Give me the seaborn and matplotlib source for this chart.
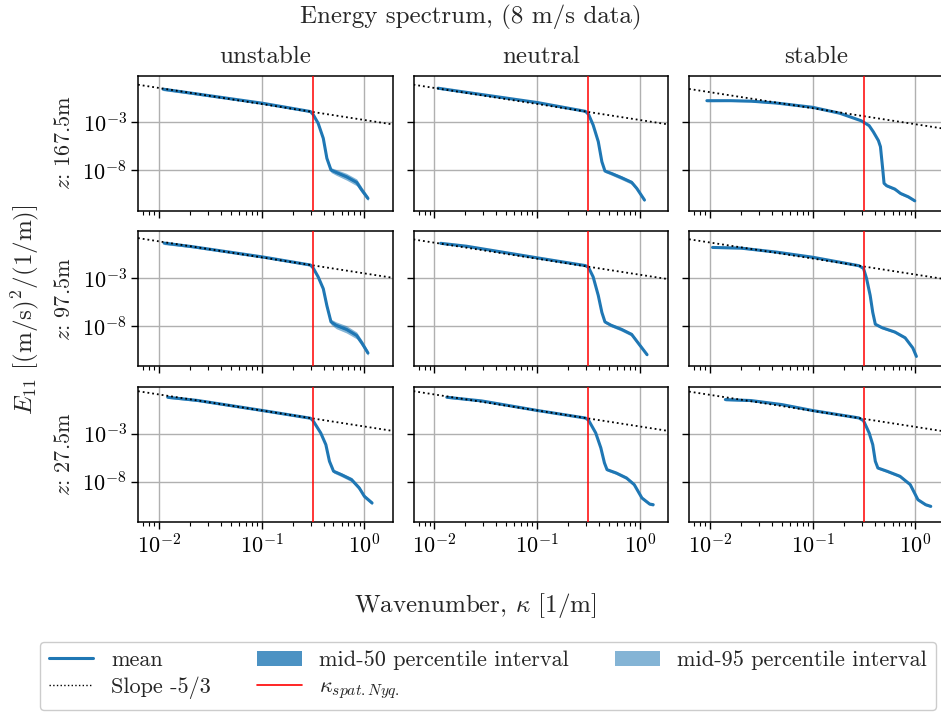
import numpy as np
import pandas as pd
import matplotlib
matplotlib.use("Agg")
import matplotlib.pyplot as plt
import seaborn as sns
from matplotlib.lines import Line2D
from matplotlib.patches import Patch
from matplotlib.ticker import FixedLocator, NullLocator, LogLocator, NullFormatter

# ---------------- data (log10 values) ----------------
stabilities = ["unstable", "neutral", "stable"]
heights = ["167.5", "97.5", "27.5"]
kappa_nyq = 0.314
x_limits = (0.00625, 1.9)
y_limits = (10 ** -12.2, 10 ** 1.85)
y_ticks = [1e-8, 1e-3]

# slope -5/3 reference line constant, log10(C) per row (top->bottom) and column
slope_logC_167 = [-2.76, -2.76, -3.20]
slope_logC_97 = [-2.53, -2.67, -2.65]
slope_logC_27 = [-2.26, -2.26, -2.30]

# z = 167.5 m
lk_u167 = [-1.96, -1.675, -0.99, -0.525, -0.5, -0.45, -0.40, -0.365, -0.325, -0.275, -0.175, -0.075, -0.025, 0.035]
le_u167 = [0.45, 0.02, -1.02, -1.88, -2.17, -3.10, -4.67, -6.75, -7.97, -8.21, -8.66, -9.25, -10.05, -10.92]
s95_u167 = [0.15, 0.12, 0.12, 0.10, 0.10, 0.12, 0.15, 0.20, 0.25, 0.30, 0.35, 0.35, 0.30, 0.25]
s50_u167 = [0.05, 0.04, 0.04, 0.03, 0.03, 0.04, 0.05, 0.07, 0.09, 0.11, 0.12, 0.12, 0.10, 0.08]

lk_n167 = [-1.965, -1.69, -0.995, -0.53, -0.5, -0.455, -0.405, -0.37, -0.34, -0.28, -0.18, -0.08, -0.03, 0.045]
le_n167 = [0.55, 0.12, -0.95, -1.86, -2.17, -3.28, -5.01, -7.10, -8.07, -8.31, -8.76, -9.25, -9.88, -11.09]
s95_n167 = [0.10, 0.08, 0.08, 0.06, 0.06, 0.08, 0.10, 0.12, 0.15, 0.18, 0.20, 0.20, 0.18, 0.15]
s50_n167 = [0.03, 0.03, 0.03, 0.02, 0.02, 0.03, 0.03, 0.04, 0.05, 0.06, 0.07, 0.07, 0.06, 0.05]

lk_s167 = [-2.03, -1.8, -1.6, -1.35, -1.0, -0.735, -0.525, -0.45, -0.41, -0.36, -0.34, -0.317, -0.305, -0.28, -0.2, -0.145, -0.07, -0.006]
le_s167 = [-0.75, -0.75, -0.80, -1.00, -1.44, -2.06, -2.85, -3.35, -3.98, -4.90, -5.54, -7.97, -9.35, -9.60, -9.95, -10.40, -10.75, -11.17]
s95_s167 = [0.10, 0.08, 0.08, 0.07, 0.06, 0.06, 0.06, 0.07, 0.08, 0.08, 0.08, 0.08, 0.10, 0.12, 0.14, 0.14, 0.13, 0.12]
s50_s167 = [0.03, 0.03, 0.03, 0.02, 0.02, 0.02, 0.02, 0.02, 0.03, 0.03, 0.03, 0.03, 0.03, 0.04, 0.05, 0.05, 0.04, 0.04]

# z = 97.5 m
lk_u97 = [-1.95, -1.675, -0.99, -0.525, -0.5, -0.45, -0.40, -0.365, -0.325, -0.275, -0.175, -0.075, -0.025, 0.035]
le_u97 = [0.62, 0.25, -0.82, -1.66, -1.94, -2.89, -4.13, -5.89, -7.58, -7.93, -8.35, -8.99, -9.76, -10.82]
s95_u97 = [0.15, 0.12, 0.12, 0.10, 0.10, 0.12, 0.15, 0.20, 0.28, 0.35, 0.38, 0.35, 0.30, 0.25]
s50_u97 = [0.05, 0.04, 0.04, 0.03, 0.03, 0.04, 0.05, 0.07, 0.10, 0.12, 0.13, 0.12, 0.10, 0.08]

lk_n97 = [-1.94, -1.69, -0.995, -0.53, -0.5, -0.455, -0.405, -0.37, -0.34, -0.28, -0.18, -0.08, -0.005, 0.07]
le_n97 = [0.60, 0.30, -0.92, -1.72, -1.91, -2.89, -4.83, -6.59, -7.58, -7.93, -8.35, -8.88, -9.94, -10.99]
s95_n97 = [0.10, 0.08, 0.08, 0.06, 0.06, 0.08, 0.10, 0.12, 0.14, 0.16, 0.18, 0.18, 0.16, 0.14]
s50_n97 = [0.03, 0.03, 0.03, 0.02, 0.02, 0.03, 0.03, 0.04, 0.05, 0.05, 0.06, 0.06, 0.05, 0.05]

lk_s97 = [-1.975, -1.7, -1.35, -1.0, -0.55, -0.505, -0.475, -0.44, -0.415, -0.39, -0.325, -0.2, -0.1, -0.025, 0.01]
le_s97 = [0.17, 0.10, -0.32, -0.85, -1.73, -2.01, -3.07, -4.83, -6.59, -7.82, -8.18, -8.63, -9.23, -10.29, -11.17]
s95_s97 = [0.10, 0.08, 0.08, 0.07, 0.06, 0.06, 0.07, 0.08, 0.08, 0.10, 0.12, 0.13, 0.13, 0.12, 0.12]
s50_s97 = [0.03, 0.03, 0.03, 0.02, 0.02, 0.02, 0.02, 0.03, 0.03, 0.03, 0.04, 0.04, 0.04, 0.04, 0.04]

# z = 27.5 m
lk_u27 = [-1.915, -1.625, -0.99, -0.525, -0.5, -0.425, -0.375, -0.34, -0.30, -0.225, -0.125, -0.05, 0.0, 0.075]
le_u27 = [0.78, 0.45, -0.60, -1.40, -1.65, -2.93, -4.15, -5.88, -6.92, -7.27, -7.79, -8.66, -9.53, -10.22]
s95_u27 = [0.12, 0.10, 0.10, 0.08, 0.08, 0.10, 0.12, 0.15, 0.18, 0.20, 0.22, 0.22, 0.20, 0.18]
s50_u27 = [0.04, 0.03, 0.03, 0.03, 0.03, 0.03, 0.04, 0.05, 0.06, 0.07, 0.07, 0.07, 0.06, 0.06]

lk_n27 = [-1.88, -1.54, -0.995, -0.53, -0.5, -0.43, -0.38, -0.345, -0.32, -0.23, -0.13, -0.055, 0.02, 0.095, 0.13]
le_n27 = [0.78, 0.40, -0.60, -1.38, -1.60, -2.93, -4.49, -6.05, -6.75, -7.10, -7.62, -8.31, -9.70, -10.33, -10.40]
s95_n27 = [0.10, 0.08, 0.08, 0.06, 0.06, 0.08, 0.10, 0.12, 0.14, 0.15, 0.16, 0.16, 0.15, 0.14, 0.14]
s50_n27 = [0.03, 0.03, 0.03, 0.02, 0.02, 0.03, 0.03, 0.04, 0.05, 0.05, 0.05, 0.05, 0.05, 0.05, 0.05]

lk_s27 = [-1.85, -1.6, -1.3, -1.0, -0.55, -0.505, -0.45, -0.415, -0.39, -0.365, -0.275, -0.15, -0.05, 0.025, 0.1, 0.15]
le_s27 = [0.54, 0.44, 0.02, -0.60, -1.37, -1.65, -2.93, -4.15, -5.88, -6.58, -6.92, -7.44, -8.31, -9.88, -10.40, -10.57]
s95_s27 = [0.12, 0.10, 0.08, 0.08, 0.06, 0.06, 0.07, 0.08, 0.10, 0.12, 0.13, 0.14, 0.14, 0.13, 0.12, 0.12]
s50_s27 = [0.04, 0.03, 0.03, 0.03, 0.02, 0.02, 0.02, 0.03, 0.03, 0.04, 0.04, 0.05, 0.05, 0.04, 0.04, 0.04]

# ---------------- styling ----------------
sns.set_theme(style="ticks")
plt.rcParams.update({
    "font.family": ["cmr10", "DejaVu Serif"],
    "mathtext.fontset": "cm",
    "axes.formatter.use_mathtext": True,
    "axes.unicode_minus": False,
    "axes.edgecolor": "black",
    "axes.linewidth": 1.1,
    "xtick.color": "black",
    "ytick.color": "black",
})

C0 = "#1f77b4"
W, H = 941, 713
fig = plt.figure(figsize=(W / 100, H / 100), dpi=100)

col_left = [138, 413.5, 689]
row_top = [75.7, 231.3, 387]
ax_w, ax_h = 255, 135

panels = [
    [(lk_u167, le_u167, s95_u167, s50_u167), (lk_n167, le_n167, s95_n167, s50_n167), (lk_s167, le_s167, s95_s167, s50_s167)],
    [(lk_u97, le_u97, s95_u97, s50_u97), (lk_n97, le_n97, s95_n97, s50_n97), (lk_s97, le_s97, s95_s97, s50_s97)],
    [(lk_u27, le_u27, s95_u27, s50_u27), (lk_n27, le_n27, s95_n27, s50_n27), (lk_s27, le_s27, s95_s27, s50_s27)],
]
slope_consts = [slope_logC_167, slope_logC_97, slope_logC_27]

TICK_FS = 16
for r in range(3):
    for c in range(3):
        lk, le, s95, s50 = [np.array(a, dtype=float) for a in panels[r][c]]
        ax = fig.add_axes([col_left[c] / W, 1 - (row_top[r] + ax_h) / H, ax_w / W, ax_h / H])
        ax.set_xscale("log")
        ax.set_yscale("log")
        kappa = 10 ** lk
        ax.fill_between(kappa, 10 ** (le - s95), 10 ** (le + s95), color=C0, alpha=0.55, lw=0, zorder=2)
        ax.fill_between(kappa, 10 ** (le - s50), 10 ** (le + s50), color=C0, alpha=0.8, lw=0, zorder=2)
        df = pd.DataFrame({"kappa": kappa, "E": 10 ** le})
        sns.lineplot(data=df, x="kappa", y="E", ax=ax, color=C0, lw=2.2, zorder=3, sort=False)
        xs = np.array(x_limits)
        ax.plot(xs, 10 ** slope_consts[r][c] * xs ** (-5.0 / 3.0), ":", color="black", lw=1.3, zorder=4)
        ax.axvline(kappa_nyq, color="red", lw=1.1, zorder=5)
        ax.set_xlim(*x_limits)
        ax.set_ylim(*y_limits)
        ax.yaxis.set_major_locator(FixedLocator(y_ticks))
        ax.yaxis.set_minor_locator(NullLocator())
        ax.xaxis.set_major_locator(LogLocator(base=10, numticks=10))
        ax.xaxis.set_minor_locator(LogLocator(base=10, subs=np.arange(2, 10), numticks=10))
        ax.xaxis.set_minor_formatter(NullFormatter())
        ax.grid(True, which="major", color="#b0b0b0", lw=1.0)
        ax.tick_params(which="major", length=5, width=1.0, labelsize=TICK_FS, direction="out", pad=3)
        ax.tick_params(which="minor", length=3, width=0.8, direction="out")
        ax.set_xlabel("")
        ax.set_ylabel("")
        if r < 2:
            ax.tick_params(labelbottom=False)
        if c > 0:
            ax.tick_params(labelleft=False)
        else:
            ax.set_ylabel(r"$z$: " + heights[r] + "m", fontsize=TICK_FS, labelpad=6)
        if r == 0:
            ax.set_title(stabilities[c], fontsize=18, pad=9)
        for s in ax.spines.values():
            s.set_visible(True)
            s.set_color("black")

fig.text(0.5, 1 - 17 / H, "Energy spectrum, (8 m/s data)", ha="center", va="center", fontsize=18)
fig.text(0.505, 1 - 606 / H, r"Wavenumber, $\kappa$ [1/m]", ha="center", va="center", fontsize=18)
fig.text(25 / W, 1 - 310 / H, r"$E_{11}$ [(m/s)$^2$/(1/m)]", ha="center", va="center", rotation=90, fontsize=18)

handles = [
    Line2D([], [], color=C0, lw=2.2),
    Line2D([], [], color="black", ls=":", lw=1.0),
    Patch(facecolor=C0, alpha=0.8, lw=0),
    Line2D([], [], color="red", lw=1.2),
    Patch(facecolor=C0, alpha=0.55, lw=0),
]
labels = ["mean", "Slope -5/3", "mid-50 percentile interval",
          r"$\kappa_{spat. Nyq.}$", "mid-95 percentile interval"]
fig.legend(handles, labels, ncol=3, mode="expand", loc="lower left",
           bbox_to_anchor=(40 / W, 3 / H, 896 / W, 70 / H), fontsize=16,
           frameon=True, fancybox=True, edgecolor="#cccccc", framealpha=1.0,
           handlelength=2.0, borderaxespad=0.0, labelspacing=0.3)

fig.savefig("out.png", dpi=100)
